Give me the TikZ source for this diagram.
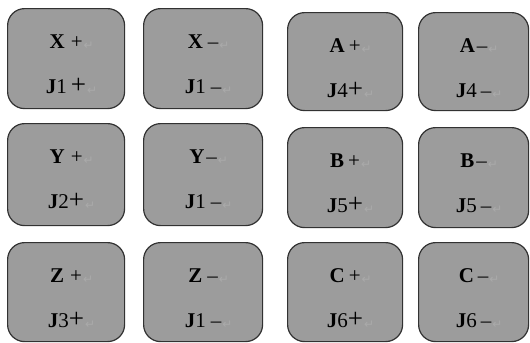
\documentclass[tikz,border=0pt]{standalone}
\usepackage{fontspec}
\setmainfont{Liberation Serif}
\newfontfamily\symfont{DejaVu Sans}
\definecolor{keyfill}{RGB}{156,156,156}
\definecolor{keyedge}{RGB}{50,50,50}
\definecolor{retmark}{RGB}{170,170,170}
\newcommand\rmk{\rlap{\hspace{1bp}\raisebox{-1bp}{\symfont\fontsize{12bp}{12bp}\selectfont\color{retmark}↵}}}
\newcommand\kplus{{\fontsize{27bp}{27bp}\selectfont +}}
\newcommand\kmin{{\fontsize{21bp}{21bp}\selectfont –}}
\tikzset{
  keybox/.style={draw=keyedge, line width=1.2bp, fill=keyfill, rounded corners=17bp, inner sep=0pt},
  keytext/.style={font=\fontsize{21bp}{21bp}\selectfont, text=black, inner sep=0pt, anchor=base}
}
\newcommand\mykey[8]{%
  \node[keybox, minimum width=#4bp, minimum height=#5bp, anchor=north west] (#1) at (#2,#3) {};
  \node[keytext] (#1t) at ([yshift=-40bp]#1.north) {#6};
  \node[keytext] (#1b) at ([yshift=-85bp]#1.north) {#7};
}
\begin{document}
\begin{tikzpicture}[x=1bp,y=-1bp]
\useasboundingbox (0,0) rectangle (530,342);
% row 1
\mykey{xp}{7}{8}{117}{100}{\textbf{X}\hspace{6bp}+\rmk}{\textbf{J}1\hspace{4bp}\kplus\rmk}{}
\mykey{xm}{143}{8}{119}{100}{\textbf{X}\hspace{5bp}–\rmk}{\textbf{J}1\hspace{5bp}\kmin\rmk}{}
\mykey{ap}{287}{12}{115}{98}{\textbf{A}\hspace{4bp}+\rmk}{\textbf{J}4\kplus\rmk}{}
\mykey{am}{418}{12}{110}{98}{\textbf{A}\hspace{2bp}–\rmk}{\textbf{J}4\hspace{4bp}\kmin\rmk}{}
% row 2
\mykey{yp}{7}{123}{117}{102}{\textbf{Y}\hspace{6bp}+\rmk}{\textbf{J}2\kplus\rmk}{}
\mykey{ym}{143}{123}{119}{102}{\textbf{Y}\hspace{2bp}–\rmk}{\textbf{J}1\hspace{5bp}\kmin\rmk}{}
\mykey{bp}{287}{127}{115}{100}{\textbf{B}\hspace{4bp}+\rmk}{\textbf{J}5\kplus\rmk}{}
\mykey{bm}{418}{127}{110}{100}{\textbf{B}\hspace{2bp}–\rmk}{\textbf{J}5\hspace{4bp}\kmin\rmk}{}
% row 3
\mykey{zp}{7}{242}{117}{99}{\textbf{Z}\hspace{6bp}+\rmk}{\textbf{J}3\kplus\rmk}{}
\mykey{zm}{143}{242}{119}{99}{\textbf{Z}\hspace{5bp}–\rmk}{\textbf{J}1\hspace{5bp}\kmin\rmk}{}
\mykey{cp}{287}{242}{115}{99}{\textbf{C}\hspace{4bp}+\rmk}{\textbf{J}6\kplus\rmk}{}
\mykey{cm}{418}{242}{110}{99}{\textbf{C}\hspace{4bp}–\rmk}{\textbf{J}6\hspace{4bp}\kmin\rmk}{}
\end{tikzpicture}
\end{document}
